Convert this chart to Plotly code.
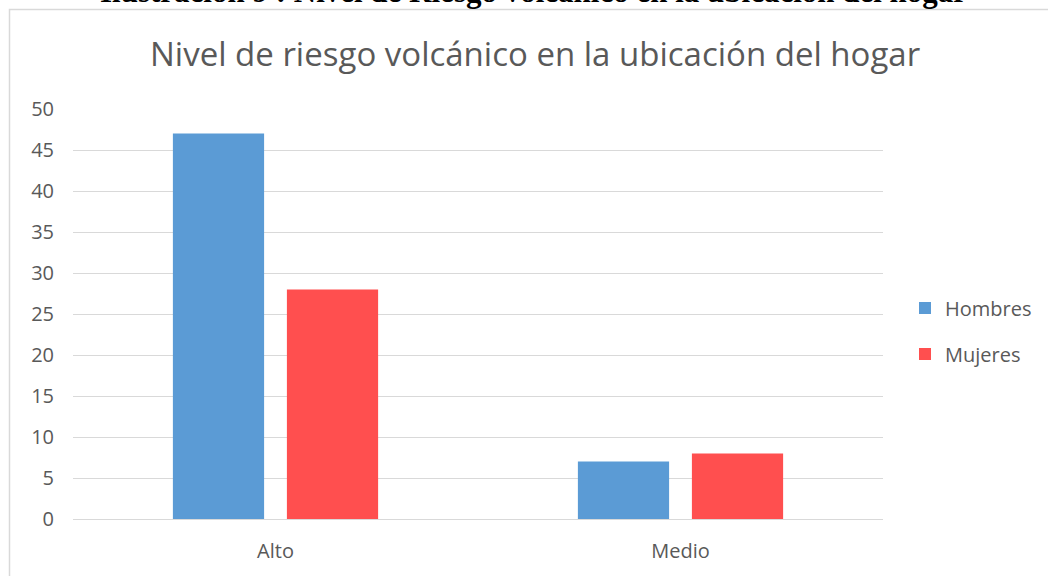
import plotly.graph_objects as go

categories = ["Alto", "Medio"]
hombres = [47, 7]
mujeres = [28, 8]
y_ticks = [0, 5, 10, 15, 20, 25, 30, 35, 40, 45, 50]

W, H = 1048, 576
L, R, T, B = 73, 165, 109, 57
PW, PH = W - L - R, H - T - B

def px(x):
    return (x - L) / PW

def py(y):
    return (H - B - y) / PH

fig = go.Figure()
fig.add_trace(go.Bar(name="Hombres", x=categories, y=hombres, legendgroup="h",
                     marker=dict(color="#5B9BD5", line=dict(width=0))))
fig.add_trace(go.Bar(name="Mujeres", x=categories, y=mujeres, legendgroup="m",
                     marker=dict(color="#FF4F4F", line=dict(width=0))))

fig.update_layout(
    width=W, height=H,
    margin=dict(l=L, r=R, t=T, b=B, pad=0, autoexpand=False),
    paper_bgcolor="white", plot_bgcolor="white",
    barmode="group", bargap=0.437, bargroupgap=0.2,
    font=dict(family="Open Sans, sans-serif", color="#595959"),
    showlegend=True,
    legend=dict(x=px(905), y=py(331), xanchor="left", yanchor="middle",
                font=dict(size=20, color="#595959"), tracegroupgap=17,
                traceorder="grouped",
                itemsizing="constant", bgcolor="rgba(0,0,0,0)"),
    xaxis=dict(showgrid=False, showline=False, ticks="", automargin=False,
               tickfont=dict(size=20, color="#595959"), ticklabelstandoff=18),
    yaxis=dict(range=[0, 50], tickvals=y_ticks, showgrid=True, automargin=False,
               gridcolor="#D9D9D9", gridwidth=1, zeroline=True,
               zerolinecolor="#D9D9D9", zerolinewidth=1, showline=False,
               ticks="", tickfont=dict(size=20, color="#595959"),
               ticklabelstandoff=18),
    shapes=[dict(type="rect", xref="paper", yref="paper",
                 x0=px(9.5), x1=px(1060), y0=py(590), y1=py(9.5),
                 line=dict(color="#D9D9D9", width=1.5), fillcolor="rgba(0,0,0,0)",
                 layer="below")],
    annotations=[
        dict(text="Nivel de riesgo volcánico en la ubicación del hogar",
             xref="paper", yref="paper", x=px(535), y=py(53),
             xanchor="center", yanchor="middle", showarrow=False,
             font=dict(family="Open Sans, sans-serif", size=33, color="#595959")),
        dict(text="<b>Ilustración 9 : Nivel de Riesgo volcánico en la ubicación del hogar</b>",
             xref="paper", yref="paper", x=px(533), y=py(11),
             xanchor="center", yanchor="bottom", showarrow=False,
             font=dict(family="Liberation Serif, Times New Roman, serif", size=31, color="#000000")),
    ],
)

fig.write_html("out.html", config={"displayModeBar": False},
               post_script="document.body.style.margin='0';")
